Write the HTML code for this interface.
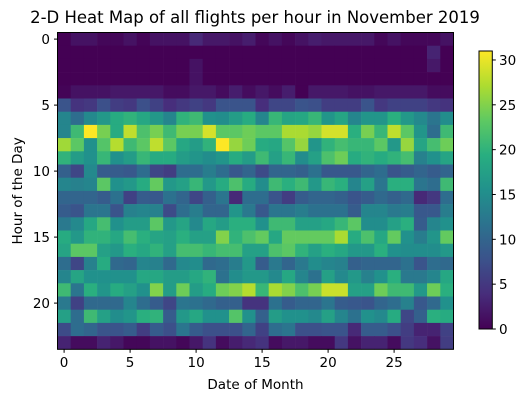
<!DOCTYPE html>
<html><head><meta charset="utf-8"><style>
body{margin:0;background:#fff;}
svg{display:block;font-family:"DejaVu Sans","Liberation Sans",sans-serif;}
</style></head><body>
<svg id="chart" width="529" height="403" viewBox="0 0 529 403">
<text x="255" y="23" font-size="16.5" text-anchor="middle" fill="#000">2-D Heat Map of all flights per hour in November 2019</text>
<g id="cells"></g>
<rect x="57.5" y="32.5" width="396" height="316.8" fill="none" stroke="#000" stroke-width="1"/>
<g id="xticks"></g>
<g id="yticks"></g>
<text x="255.5" y="389" font-size="13.5" text-anchor="middle">Date of Month</text>
<text transform="translate(22,190.9) rotate(-90)" font-size="13.5" text-anchor="middle">Hour of the Day</text>
<defs><linearGradient id="vir" x1="0" y1="1" x2="0" y2="0"></linearGradient></defs>
<rect x="479" y="51" width="13.3" height="278" fill="url(#vir)" stroke="#000" stroke-width="1"/>
<g id="cticks"></g>
</svg>
<script>
const hours = [0,1,2,3,4,5,6,7,8,9,10,11,12,13,14,15,16,17,18,19,20,21,22,23];
const days = [0,1,2,3,4,5,6,7,8,9,10,11,12,13,14,15,16,17,18,19,20,21,22,23,24,25,26,27,28,29];
const xTickLabels = [0,5,10,15,20,25];
const yTickLabels = [0,5,10,15,20];
const cbarTickLabels = [0,5,10,15,20,25,30];
const row0 = [0,1.5,1.5,0.5,0.5,1.5,0.3,1.5,1.5,1.5,3.5,2,2,1.5,2.5,0.5,1.5,0.5,1.5,2.5,2,2,2,2,0.5,1.5,0.5,0.5,0.5,1.5];
const row1 = [0,0,0,0,0,0,0,0,0,0,0,0,0,0,0,0,0,0,0,0,0,0,0,0,0,0,0,0,3,0];
const row2 = [0,0,0,0,0,0,0,0,0,0,1.5,0,0,0,0,0,0,0,0,0,0,0,0,0,0,0,0,0,2,0];
const row3 = [0,0,0,0,0,0,0,0,0,0,1.5,0,0,0,0,0,0,0,0,0,0,0,0,0,0,0,0,0,0,0];
const row4 = [0.3,1.5,1.5,1.5,2,2,2,2,1,1,2,2,1,2.5,1,2,1,2.5,0,2,2,2,1.5,1.5,2,2,2,2,1,1];
const row5 = [8,4.5,5,7.5,5.5,5,7.5,6,4,5,6,5,8,8,8,4,6.5,6.5,8,7.5,5.5,5.5,5.5,8,5,6,6,6,5,4.5];
const row6 = [14,11,14.5,16.5,19,20,18.5,16.5,14,20,21,15.5,15,17,19,14,20.5,18,18.5,20.5,16,18,14,16,16,19.5,16.5,14.5,12,15];
const row7 = [14,21,31,24.5,19,28,22,24.5,21,24.5,24.5,29,23,23,24,23,23,27,27,26,29,29,19.5,24.5,20.5,28,23,16,11,21];
const row8 = [26.5,23,15.5,22.5,27.5,21,23,28,23,18.5,17,20,31,26,24,19,18.5,22.5,26,16,20,21.5,20.5,20.5,23,16.5,26,18,21.5,24];
const row9 = [20,17,15.5,20.5,15.5,17,20.5,19,19,17,16,15,16,19,17,21,17.5,20.5,15,17.5,22,24,19,20,19,20,21.5,13.5,15.5,18];
const row10 = [9.5,6.5,14.5,9,9,8.5,11,6.5,5.5,11,11,13,11,8.5,10,7,10,10,9.5,11.5,8.5,8.5,8.5,10,11,8,9,10,9,10];
const row11 = [14,13.5,14,23,15.5,16.5,19,23.5,16.5,17.5,20.5,16.5,19,22,19,15,21,19.5,21,16.5,20.5,19.5,14,17.5,12,19.5,19.5,12,11,21];
const row12 = [10,10,10,9,11.5,6,9,8.5,11.5,10,6.5,9.5,12,3.5,11,11,8,5.5,9,10,10,9.5,8,9,10.5,9.5,10.5,3.5,5,11];
const row13 = [9,8,12,12,8,13.5,14,13.5,7,11,13,10,10,16,12.5,8.5,12,12,13,11.5,11.5,11.5,9,14,14,12.5,13,8.5,8.5,13];
const row14 = [12.5,14.5,18.5,21.5,15.5,17,17,23,16.5,18,14.5,18.5,17,19.5,19.5,15.5,21,21,17.5,17.5,18.5,20.5,23,15,15,17.5,19.5,9,14,15.5];
const row15 = [19,16.5,20,20,18.5,21.5,19.5,18,17.5,19.5,17.5,17.5,25,20,22,23.5,18.5,23.5,23.5,23.5,23.5,27,19,22,18.5,23.5,15.5,13,16,23.5];
const row16 = [18,23,23,17.5,16.5,19.5,18.5,20,17.5,21.5,21.5,20.5,21.5,21.5,17.5,17.5,22,23,20,17.5,19.5,18.5,16.5,16.5,19.5,15.5,15,15,15,16.5];
const row17 = [11,6.5,13.5,19,10.5,10,14,13.5,10.5,14.5,15,10.5,11,13,16.5,9,12.5,10,12.5,15,14,13.5,9.5,10,10,10,11.5,8,11,10.5];
const row18 = [14,18,15.5,15.5,15.5,15.5,18.5,18.5,17,17,18.5,20,11.5,15,16.5,16.5,14.5,18.5,14,11.5,17.5,14.5,16.5,13.5,15.5,19.5,12.5,12.5,14,18.5];
const row19 = [21,12,19.5,16,19,17.5,15.5,25,17,24,17,19,24,25,27.5,20.5,27,25,22,24.5,28.5,28.5,17.5,17.5,24,21,21,16.5,24,19.5];
const row20 = [12.5,6,10.5,10.5,10.5,14,11,9,6.5,12,11.5,10.5,9.5,9.5,4.5,4.5,11.5,9,10,10,12,9,8.5,8,10,11,13.5,8.5,10.5,15.5];
const row21 = [17.5,11,21,17.5,15,16,19.5,20,9,16.5,18.5,15.5,15.5,22.5,15.5,9.5,17,15.5,15.5,14.5,17.5,14,11.5,15.5,14.5,19,6.5,9.5,19.5,19];
const row22 = [7,11,10,8,8,9,5.5,9,7.5,12,9,7.5,7.5,7.5,10,6,11,12,7.5,7.5,8,8,3.5,9,9,7.5,5.5,3,3,6];
const row23 = [3,1,1,3,2,0.5,0.5,1.5,1.5,0.5,2,4.5,1,2.5,3.5,4.5,1,2,2,1,1,5,1.5,3,3,1,5,4,1.5,5.5];
const values = [row0,row1,row2,row3,row4,row5,row6,row7,row8,row9,row10,row11,row12,row13,row14,row15,row16,row17,row18,row19,row20,row21,row22,row23];
const vmin = 0, vmax = 31;

const NS = "http://www.w3.org/2000/svg";
const X0 = 57.5, Y0 = 32.5, CW = 13.2, CH = 13.2;
function xScale(d){ return X0 + (d + 0.5) * CW; }
function yScale(h){ return Y0 + (h + 0.5) * CH; }
const stops = ["#440154","#472d7b","#3b528b","#2c728e","#21918c","#28ae80","#5ec962","#addc30","#fde725"];
function hex(c){ return [1,3,5].map(i=>parseInt(c.substr(i,2),16)); }
function viridis(v){
  let t = Math.max(0, Math.min(1, (v - vmin) / (vmax - vmin))) * 8;
  let i = Math.min(7, Math.floor(t)), f = t - i;
  let a = hex(stops[i]), b = hex(stops[i+1]);
  return "rgb(" + a.map((x,k)=>Math.round(x + (b[k]-x)*f)).join(",") + ")";
}
const cells = document.getElementById("cells");
hours.forEach((h, r) => {
  days.forEach((d, c) => {
    const rect = document.createElementNS(NS, "rect");
    rect.setAttribute("x", (xScale(d) - CW/2).toFixed(2));
    rect.setAttribute("y", (yScale(h) - CH/2).toFixed(2));
    rect.setAttribute("width", CW + 0.3);
    rect.setAttribute("height", CH + 0.3);
    rect.setAttribute("fill", viridis(values[r][c]));
    
    
    cells.appendChild(rect);
  });
});
const xt = document.getElementById("xticks");
xTickLabels.forEach(v => {
  const x = xScale(v);
  const l = document.createElementNS(NS, "line");
  l.setAttribute("x1", x); l.setAttribute("x2", x); l.setAttribute("y1", 349.3); l.setAttribute("y2", 352.8);
  l.setAttribute("stroke", "#000");
  
  
  xt.appendChild(l);
  const t = document.createElementNS(NS, "text");
  t.setAttribute("x", x); t.setAttribute("y", 367); t.setAttribute("font-size", "13.5"); t.setAttribute("text-anchor", "middle");
  t.textContent = v;
  
  
  xt.appendChild(t);
});
const yt = document.getElementById("yticks");
yTickLabels.forEach(v => {
  const y = yScale(v);
  const l = document.createElementNS(NS, "line");
  l.setAttribute("x1", 54); l.setAttribute("x2", 57.5); l.setAttribute("y1", y); l.setAttribute("y2", y);
  l.setAttribute("stroke", "#000");
  
  
  yt.appendChild(l);
  const t = document.createElementNS(NS, "text");
  t.setAttribute("x", 50); t.setAttribute("y", y + 5); t.setAttribute("font-size", "13.5"); t.setAttribute("text-anchor", "end");
  t.textContent = v;
  
  
  yt.appendChild(t);
});
const grad = document.getElementById("vir");
stops.forEach((s, i) => {
  const st = document.createElementNS(NS, "stop");
  st.setAttribute("offset", (i / 8));
  st.setAttribute("stop-color", s);
  grad.appendChild(st);
});
const CB0 = 329, CB1 = 51;
function cbScale(v){ return CB0 - (v - vmin) / (vmax - vmin) * (CB0 - CB1); }
const ct = document.getElementById("cticks");
cbarTickLabels.forEach(v => {
  const y = cbScale(v);
  const l = document.createElementNS(NS, "line");
  l.setAttribute("x1", 492.3); l.setAttribute("x2", 495.8); l.setAttribute("y1", y); l.setAttribute("y2", y);
  l.setAttribute("stroke", "#000");
  
  
  ct.appendChild(l);
  const t = document.createElementNS(NS, "text");
  t.setAttribute("x", 499); t.setAttribute("y", y + 5); t.setAttribute("font-size", "13.5");
  t.textContent = v;
  
  
  ct.appendChild(t);
});
</script>
</body></html>
